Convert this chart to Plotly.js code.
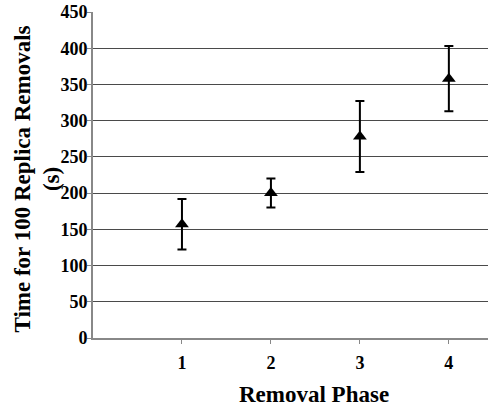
<!DOCTYPE html>
<html><head><meta charset="utf-8">
<script src="https://cdn.plot.ly/plotly-3.0.1.min.js"></script>
<style>body{margin:0;background:#fff}#c{width:490px;height:407px}</style>
</head><body><div id="c"></div>
<script>
const phases = [1, 2, 3, 4];
const phaseLabels = ["1", "2", "3", "4"];
const meanTime = [157, 200, 278, 358];
const errTime = [35, 20, 49, 45];
const yTicks = [0, 50, 100, 150, 200, 250, 300, 350, 400, 450];

const fam = "Liberation Serif";
const tickFont = {family: fam, size: 18, color: "#000", weight: 700};
const titleFont = {family: fam, size: 23, color: "#000", weight: 700};
const bold = s => "<b>" + s + "</b>";

Plotly.newPlot("c", [{
  x: phases, y: meanTime, type: "scatter", mode: "markers",
  marker: {symbol: "triangle-up", size: 12, color: "#000"},
  error_y: {type: "data", array: errTime, visible: true, color: "#000", thickness: 2, width: 4.5}
}], {
  width: 490, height: 407,
  margin: {l: 93, r: 2, t: 12, b: 69},
  paper_bgcolor: "#fff", plot_bgcolor: "#fff",
  showlegend: false,
  font: {family: fam, color: "#000"},
  xaxis: {
    range: [0, 4.44], tickvals: phases, ticktext: phaseLabels.map(bold),
    ticks: "outside", ticklen: 4, tickwidth: 1, tickcolor: "#888",
    ticklabelstandoff: 3,
    showgrid: false, zeroline: false, showline: true, linecolor: "#888", linewidth: 2,
    tickfont: tickFont,
    fixedrange: true
  },
  yaxis: {
    range: [0, 450], tickvals: yTicks, ticktext: yTicks.map(v => bold(String(v))),
    ticks: "outside", ticklen: 4, tickwidth: 1, tickcolor: "#888",
    ticklabelstandoff: -4,
    showgrid: true, gridcolor: "#4a4a4a", gridwidth: 1,
    zeroline: false, showline: true, linecolor: "#888", linewidth: 2,
    tickfont: tickFont,
    fixedrange: true
  },
  annotations: [{
    text: "Removal Phase", xref: "paper", yref: "paper",
    x: (314 - 93) / 395, y: 0, yshift: -56, xanchor: "center", yanchor: "middle",
    showarrow: false, font: titleFont
  }, {
    text: "Time for 100 Replica Removals<br>(s)", xref: "paper", yref: "paper",
    x: 0, xshift: -56, y: 0.5, yshift: -4.5, xanchor: "center", yanchor: "middle",
    textangle: -90, showarrow: false, font: titleFont
  }]
}, {displayModeBar: false, staticPlot: true});
</script>
</body></html>
